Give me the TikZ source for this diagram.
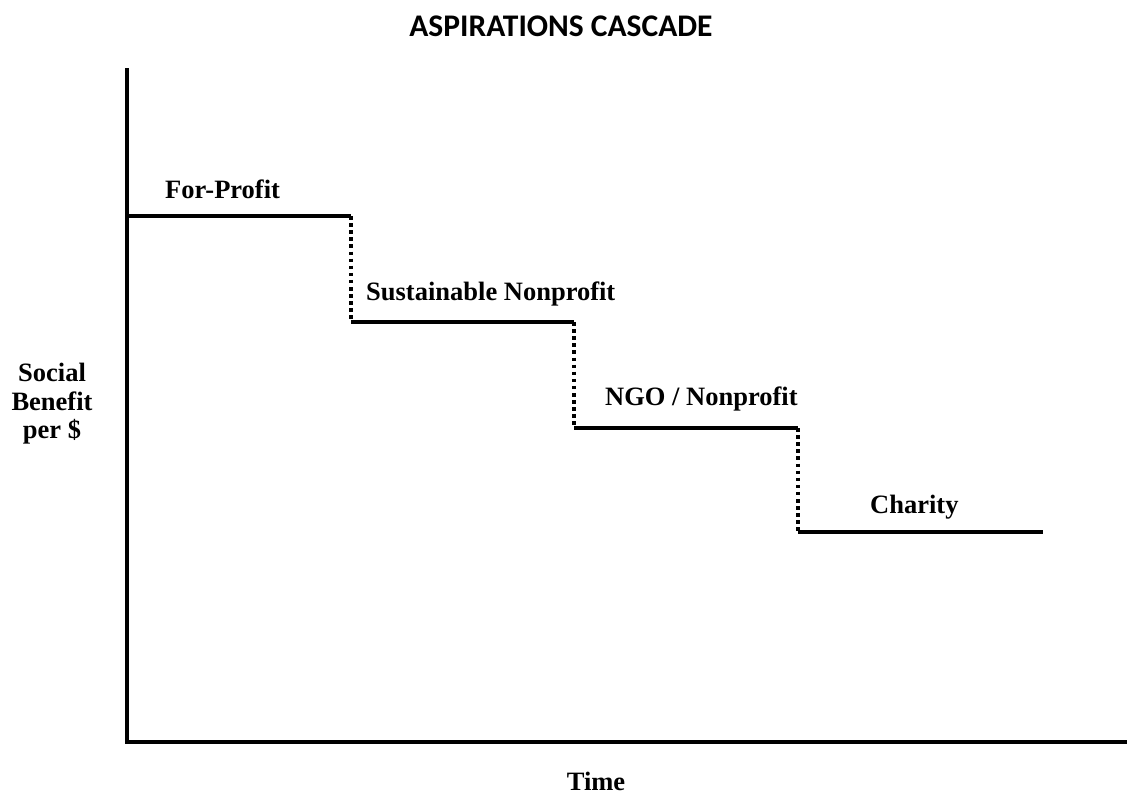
\documentclass[tikz,border=0pt]{standalone}
\usepackage{fontspec}
\setmainfont{Liberation Serif}
\newfontfamily\titlefont{Carlito}
\begin{document}
\begin{tikzpicture}[x=1bp,y=-1bp,
  axisline/.style={line width=4.5bp,line cap=rect},
  level/.style={line width=4bp},
  drop/.style={line width=3.5bp,dash pattern=on 3.5bp off 3.6bp},
  lbl/.style={font=\fontsize{26.5bp}{28.5bp}\selectfont\bfseries,inner sep=0pt,anchor=base},
  ttl/.style={font=\fontsize{31.5bp}{34bp}\selectfont\titlefont\bfseries,inner sep=0pt,anchor=base}]
\useasboundingbox (0,0) rectangle (1127,794);

% title
\node[ttl] (title) at (561,37) {ASPIRATIONS CASCADE};

% axes
\coordinate (top) at (127,70);
\coordinate (origin) at (127,742);
\coordinate (right) at (1127,742);
\draw[axisline] (top) -- (origin) -- (right);

% levels of the cascade
\coordinate (a1) at (127,216);  \coordinate (a2) at (351,216);
\coordinate (b1) at (351,322);  \coordinate (b2) at (574,322);
\coordinate (c1) at (574,428);  \coordinate (c2) at (798,428);
\coordinate (d1) at (798,532);  \coordinate (d2) at (1043,532);
\draw[level] (a1) -- (a2);
\draw[level] (b1) -- (b2);
\draw[level] (c1) -- (c2);
\draw[level] (d1) -- (d2);

% drops between levels
\draw[drop] (a2) -- (b1);
\draw[drop] (b2) -- (c1);
\draw[drop] (c2) -- (d1);

% labels
\node[lbl,anchor=base west] (forprofit) at (165,198) {For-Profit};
\node[lbl,anchor=base west] (sustainable) at (366,300) {Sustainable Nonprofit};
\node[lbl,anchor=base west] (ngo) at (605,405) {NGO / Nonprofit};
\node[lbl,anchor=base west] (charity) at (870,513) {Charity};
\node[lbl] (time) at (596,790) {Time};
\node[lbl,anchor=center,align=center] (ylabel) at (52,404) {Social\\Benefit\\per \$};
\end{tikzpicture}
\end{document}
